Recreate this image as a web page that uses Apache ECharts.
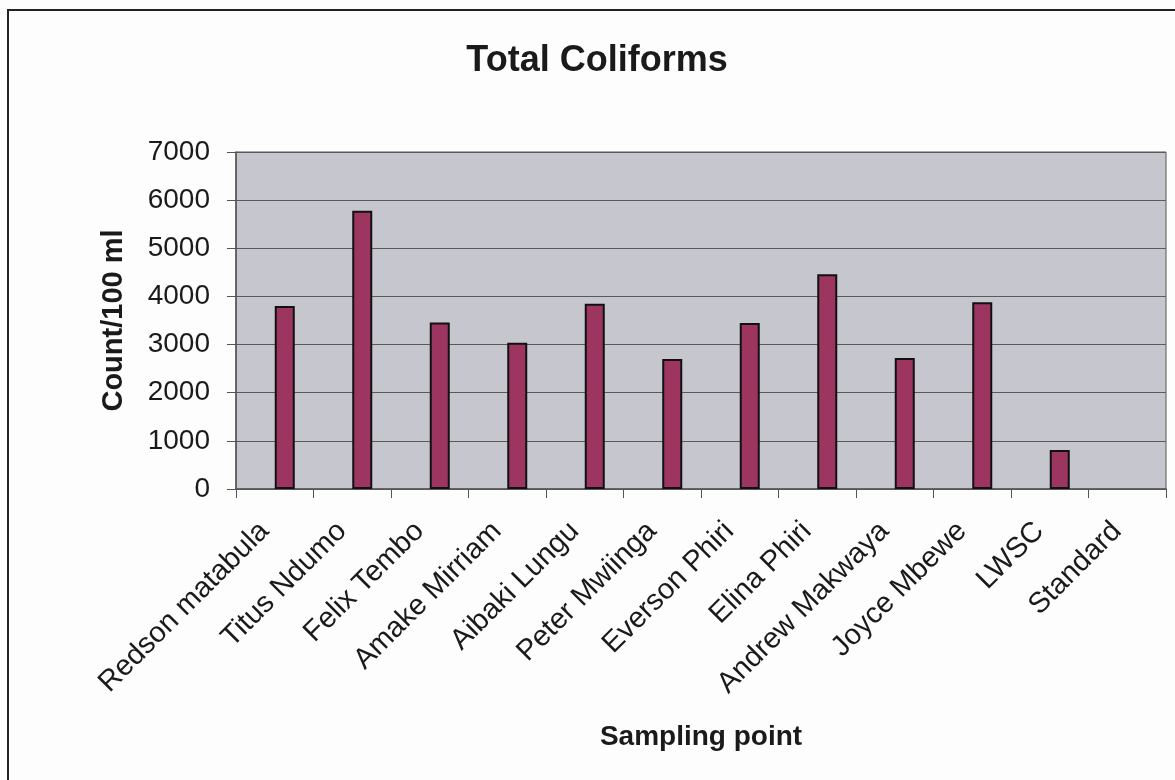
<!DOCTYPE html>
<html>
<head>
<meta charset="utf-8">
<script src="https://cdn.jsdelivr.net/npm/echarts@6/dist/echarts.min.js"></script>
<style>
html,body{margin:0;padding:0;background:#fdfdfd;}
#chart{width:1175px;height:780px;}
</style>
</head>
<body>
<div id="chart"></div>
<script>
var categories = ["Redson matabula","Titus Ndumo","Felix Tembo","Amake Mirriam","Aibaki Lungu","Peter Mwiinga","Everson Phiri","Elina Phiri","Andrew Makwaya","Joyce Mbewe","LWSC","Standard"];
var counts = [3800, 5780, 3460, 3040, 3850, 2700, 3450, 4460, 2720, 3880, 810, null];
var emptySeries = [null,null,null,null,null,null,null,null,null,null,null,null];
var yTicks = [0, 1000, 2000, 3000, 4000, 5000, 6000, 7000];

var font = '"Liberation Sans", Arial, sans-serif';
var chart = echarts.init(document.getElementById('chart'), null, {renderer:'canvas'});
chart.setOption({
  backgroundColor: '#fdfdfd',
  animation: false,
  title: {
    text: 'Total Coliforms',
    left: 592, top: 38, textAlign: 'center',
    textStyle: {fontFamily: font, fontSize: 36, fontWeight: 'bold', color: '#1a1a1a'}
  },
  graphic: [
    {type:'rect', shape:{x:8, y:10, width:1180, height:790}, style:{fill:'none', stroke:'#222', lineWidth:2}, silent:true}
  ],
  grid: {left: 236, right: 9, top: 152, bottom: 291, show: true, backgroundColor: '#c6c6ce', borderColor: '#555', borderWidth: 1},
  xAxis: {
    type: 'category',
    data: categories,
    name: 'Sampling point',
    nameLocation: 'middle',
    nameGap: 234,
    nameTextStyle: {fontFamily: font, fontSize: 28, fontWeight: 'bold', color: '#1a1a1a'},
    axisLine: {lineStyle: {color: '#555', width: 1.5}},
    axisTick: {show: true, length: 9, alignWithLabel: false, lineStyle: {color: '#555'}},
    axisLabel: {interval: 0, rotate: 45, fontFamily: font, fontSize: 29, color: '#1a1a1a', margin: 48, verticalAlign: 'bottom'},
    splitLine: {show: false}
  },
  yAxis: {
    type: 'value',
    min: yTicks[0], max: yTicks[yTicks.length-1], interval: 1000,
    name: 'Count/100 ml',
    nameLocation: 'middle',
    nameGap: 108,
    nameTextStyle: {fontFamily: font, fontSize: 29, fontWeight: 'bold', color: '#1a1a1a'},
    axisLine: {show: true, lineStyle: {color: '#555', width: 1.5}},
    axisTick: {show: true, length: 9, lineStyle: {color: '#555'}},
    axisLabel: {fontFamily: font, fontSize: 28, color: '#1a1a1a', margin: 26, formatter: function (v) { return String(v); }},
    splitLine: {show: true, lineStyle: {color: '#5a5a5a', width: 1}}
  },
  series: [
    {type: 'bar', name: '', data: emptySeries, barWidth: 20, barGap: '0%', silent: true},
    {type: 'bar', name: 'Total Coliforms', data: counts, barWidth: 20, barGap: '0%',
     itemStyle: {color: '#9c3560', borderColor: '#111', borderWidth: 2}}
  ]
});
</script>
</body>
</html>
